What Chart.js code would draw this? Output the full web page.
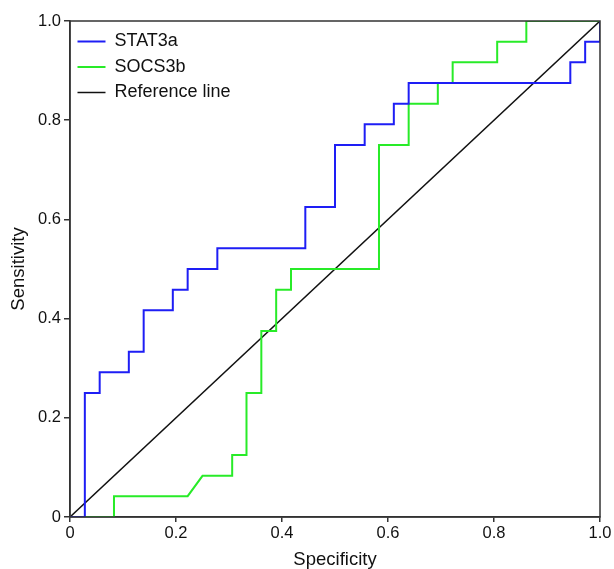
<!DOCTYPE html>
<html>
<head>
<meta charset="utf-8">
<script src="https://cdn.jsdelivr.net/npm/chart.js@4.4.0/dist/chart.umd.min.js"></script>
<style>
  html, body { margin: 0; padding: 0; background: #fff; }
  #wrap { width: 614px; height: 569px; }
</style>
</head>
<body>
<div id="wrap"><canvas id="chart-roc"></canvas></div>
<script>
// ROC corners (x = specificity axis, y = sensitivity)
const stat3aX = [0, 0.028, 0.028, 0.056, 0.056, 0.111, 0.111, 0.139, 0.139, 0.194, 0.194, 0.222, 0.222, 0.278, 0.278, 0.444, 0.444, 0.5, 0.5, 0.556, 0.556, 0.611, 0.611, 0.639, 0.639, 0.944, 0.944, 0.972, 0.972, 1, 1];
const stat3aY = [0, 0, 0.25, 0.25, 0.292, 0.292, 0.333, 0.333, 0.417, 0.417, 0.458, 0.458, 0.5, 0.5, 0.542, 0.542, 0.625, 0.625, 0.75, 0.75, 0.792, 0.792, 0.833, 0.833, 0.875, 0.875, 0.917, 0.917, 0.958, 0.958, 1];

const socs3bX = [0, 0.083, 0.083, 0.222, 0.25, 0.306, 0.306, 0.333, 0.333, 0.361, 0.361, 0.389, 0.389, 0.417, 0.417, 0.583, 0.583, 0.639, 0.639, 0.694, 0.694, 0.722, 0.722, 0.806, 0.806, 0.861, 0.861, 1];
const socs3bY = [0, 0, 0.042, 0.042, 0.083, 0.083, 0.125, 0.125, 0.25, 0.25, 0.375, 0.375, 0.458, 0.458, 0.5, 0.5, 0.75, 0.75, 0.833, 0.833, 0.875, 0.875, 0.917, 0.917, 0.958, 0.958, 1, 1];

const refX = [0, 1];
const refY = [0, 1];

const tickValues = [0, 0.2, 0.4, 0.6, 0.8, 1.0];

function toPoints(xs, ys) {
  return xs.map((x, i) => ({ x: x, y: ys[i] }));
}

// box round the plot (top + right edges)
const frameBox = {
  id: "frameBox",
  afterDraw(chart) {
    const a = chart.chartArea;
    const ctx = chart.ctx;
    ctx.save();
    ctx.strokeStyle = "#333";
    ctx.lineWidth = 1.5;
    ctx.strokeRect(a.left, a.top, a.right - a.left, a.bottom - a.top);
    ctx.restore();
  },
};

const family = "'Liberation Sans', Arial, sans-serif";
const tickFont = { family: family, size: 16.5 };
const titleFont = { family: family, size: 18.5, lineHeight: 1 };

new Chart(document.getElementById("chart-roc"), {
  type: "scatter",
  data: {
    datasets: [
      {
        label: "STAT3a",
        data: toPoints(stat3aX, stat3aY),
        showLine: true,
        borderColor: "rgb(30,30,245)",
        backgroundColor: "rgb(30,30,245)",
        borderWidth: 2,
        pointRadius: 0,
      },
      {
        label: "SOCS3b",
        data: toPoints(socs3bX, socs3bY),
        showLine: true,
        borderColor: "rgb(40,235,40)",
        backgroundColor: "rgb(40,235,40)",
        borderWidth: 2,
        pointRadius: 0,
      },
      {
        label: "Reference line",
        data: toPoints(refX, refY),
        showLine: true,
        borderColor: "#111",
        backgroundColor: "#111",
        borderWidth: 1.5,
        pointRadius: 0,
      },
    ],
  },
  options: {
    responsive: true,
    maintainAspectRatio: false,
    animation: false,
    layout: { padding: { top: 21, right: 14, bottom: 0, left: 10 } },
    plugins: {
      tooltip: { enabled: false },
      legend: {
        position: "chartArea",
        align: "start",
        // empty title only pushes the entries down inside the plot
        title: { display: true, text: " ", font: { size: 15 }, padding: 3.5 },
        labels: {
          usePointStyle: true,
          pointStyle: "line",
          pointStyleWidth: 28,
          padding: 7.5,
          color: "#111",
          font: { family: family, size: 18 },
        },
      },
    },
    scales: {
      x: {
        type: "linear",
        min: 0,
        max: 1,
        afterFit: (scale) => { scale.height = 52; },
        afterBuildTicks: (scale) => { scale.ticks = tickValues.map((v) => ({ value: v })); },
        ticks: {
          color: "#111",
          font: tickFont,
          padding: 2,
          maxRotation: 0,
          callback: (v) => (v === 0 ? "0" : v.toFixed(1)),
        },
        grid: { drawOnChartArea: false, drawTicks: true, tickLength: 5, color: "#333", lineWidth: 1.5 },
        border: { display: true, color: "#333", width: 1.5 },
        title: { display: true, text: "Specificity", color: "#111", font: titleFont, padding: { top: 0, bottom: 0 } },
      },
      y: {
        type: "linear",
        min: 0,
        max: 1,
        afterFit: (scale) => { scale.width = 60; },
        afterBuildTicks: (scale) => { scale.ticks = tickValues.map((v) => ({ value: v })); },
        ticks: {
          color: "#111",
          font: tickFont,
          padding: 3,
          callback: (v) => (v === 0 ? "0" : v.toFixed(1)),
        },
        grid: { drawOnChartArea: false, drawTicks: true, tickLength: 6, color: "#333", lineWidth: 1.5 },
        border: { display: true, color: "#333", width: 1.5 },
        title: { display: true, text: "Sensitivity", color: "#111", font: titleFont, padding: { top: 0, bottom: 0 } },
      },
    },
  },
  plugins: [frameBox],
});
</script>
</body>
</html>
